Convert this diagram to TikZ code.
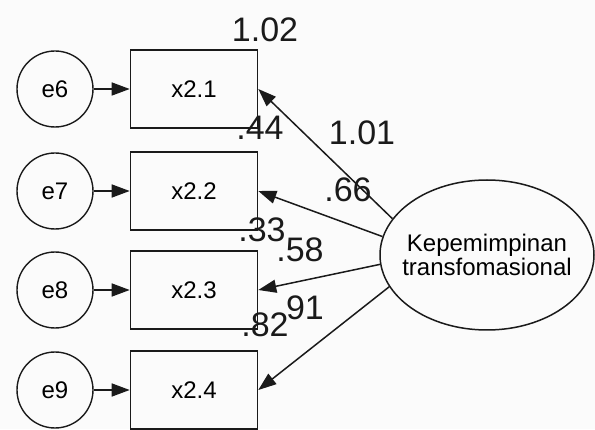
\documentclass[tikz,border=0pt]{standalone}
\usepackage{fontspec}
\setmainfont{Liberation Sans}
\usetikzlibrary{arrows.meta,shapes.geometric}
\begin{document}
\begin{tikzpicture}[x=1pt,y=1pt,font=\fontsize{24}{24}\selectfont,
  obs/.style={draw=ink,line width=1.6pt,minimum width=127pt,minimum height=78pt,inner sep=0pt},
  err/.style={draw=ink,line width=1.4pt,circle,minimum size=76pt,inner sep=0pt},
  lat/.style={draw=ink,line width=1.5pt,ellipse,minimum width=214pt,minimum height=150pt,inner xsep=-12pt,inner ysep=0pt,align=center},
  load/.style={draw=ink,line width=1.5pt,-{Triangle[length=18pt,width=13pt]}},
  est/.style={font=\fontsize{34}{34}\selectfont,text=ink,inner sep=0pt}]
\definecolor{ink}{HTML}{1A1A1A}\definecolor{paper}{HTML}{FBFBFB}
\fill[paper] (0,0) rectangle (595,429);
\useasboundingbox (0,0) rectangle (595,429);
\node[err] (e6) at (55,340) {e6};
\node[err] (e7) at (55,238) {e7};
\node[err] (e8) at (55,139) {e8};
\node[err] (e9) at (55,39) {e9};
\node[obs] (x21) at (194,340) {x2.1};
\node[obs] (x22) at (194,238) {x2.2};
\node[obs] (x23) at (194,139) {x2.3};
\node[obs] (x24) at (194,39) {x2.4};
\node[lat] (kt) at (487,174) {Kepemimpinan\\transfomasional};
\draw[load] (e6) -- (x21);
\draw[load] (e7) -- (x22);
\draw[load] (e8) -- (x23);
\draw[load] (e9) -- (x24);
\draw[load] (kt.159) -- (x21.east);
\draw[load] (kt.170) -- (x22.east);
\draw[load] (kt.185) -- (x23.east);
\draw[load] (kt.198) -- (x24.east);
\node[est] (v21) at (265,399) {1.02};
\node[est] (r21) at (260,301) {.44};
\node[est] (vkt) at (362,296) {1.01};
\node[est] (l21) at (348,239) {.66};
\node[est] (r22) at (262,199) {.33};
\node[est] (l22) at (300,179) {.58};
\node[est] (r23) at (265,104) {.82};
\node[est] (l23) at (305,121) {91};
\end{tikzpicture}
\end{document}
